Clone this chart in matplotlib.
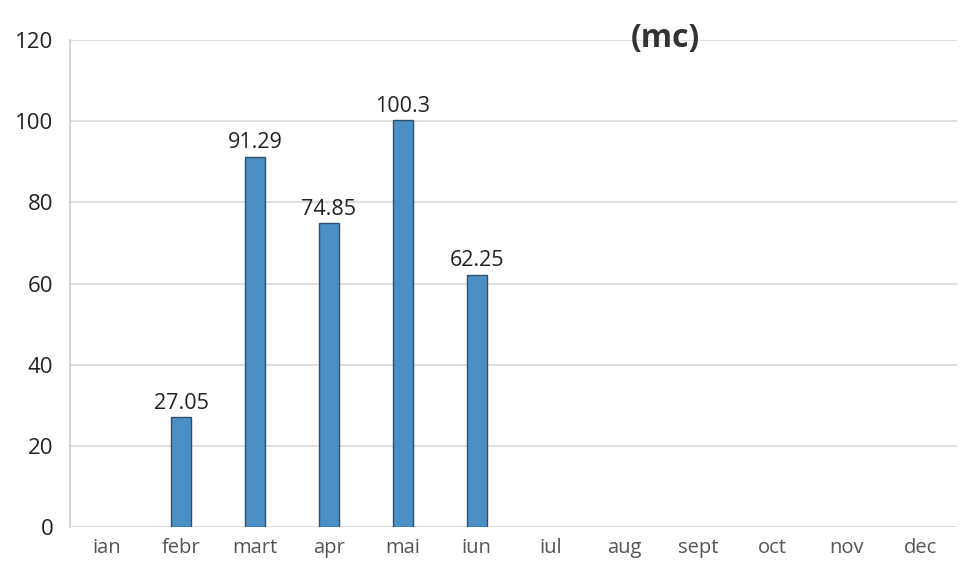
#!/usr/bin/env python3
# -*- coding: utf-8 -*-

##-Imports
import numpy as np
import matplotlib
matplotlib.use('Agg')
import matplotlib.pyplot as plt

##-Data
months = ['ian', 'febr', 'mart', 'apr', 'mai', 'iun',
          'iul', 'aug', 'sept', 'oct', 'nov', 'dec']
values = [None, 27.05, 91.29, 74.85, 100.3, 62.25,
          None, None, None, None, None, None]
labels = ['', '27.05', '91.29', '74.85', '100.3', '62.25',
          '', '', '', '', '', '']
yticks = [0, 20, 40, 60, 80, 100, 120]

plt.rcParams['font.family'] = ['Open Sans', 'DejaVu Sans']

fig = plt.figure(figsize=(9.61, 5.73), dpi=100)
ax = fig.add_axes([0.073, 0.080, 0.923, 0.850])

x = np.arange(len(months))
# only months with data get a bar
xs = [xi for xi, v in zip(x, values) if v is not None]
hs = [v for v in values if v is not None]
ax.bar(xs, hs, width=0.27, color='#4a8fc6', edgecolor='#2e4f6e', linewidth=1.0, zorder=3)

#---Data labels
for xi, v, lab in zip(x, values, labels):
    if lab:
        ax.text(xi, v + 0.8, lab, ha='center', va='bottom', fontsize=15.5, color='#222222')

ax.set_ylim(0, 120)
ax.set_xlim(-0.5, len(months) - 0.5)
ax.set_yticks(yticks)
ax.set_xticks(x)
ax.set_xticklabels(months, fontsize=14.5, color='#555555')
ax.tick_params(axis='y', labelsize=16, colors='#222222', length=0, pad=12)
ax.tick_params(axis='x', length=0, pad=8)
ax.grid(axis='y', color='#d9d9d9', linewidth=1.2, zorder=0)

for s in ['top', 'right', 'bottom']:
    ax.spines[s].set_visible(False)
ax.spines['left'].set_color('#cccccc')
ax.spines['left'].set_linewidth(1.2)

fig.text(0.692, 0.933, '(mc)', ha='center', va='center', fontsize=23, fontweight='bold', color='#333333')

fig.savefig('out.png', dpi=100)
